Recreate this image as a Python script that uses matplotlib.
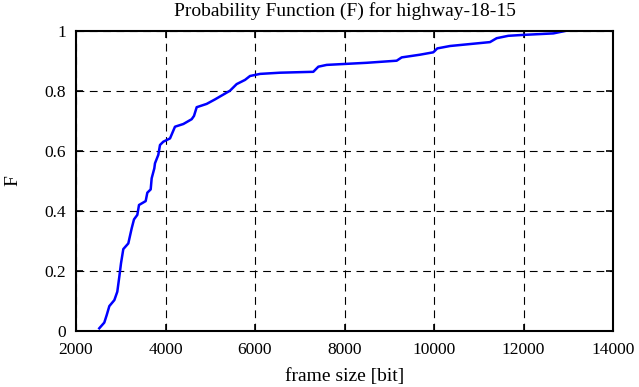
import matplotlib
matplotlib.use("Agg")
import matplotlib.pyplot as plt

# frame size [bit] vs cumulative probability F
frame_size = [2520, 2632, 2686, 2745, 2857, 2923, 2968, 3006, 3057, 3169,
              3244, 3296, 3370, 3408, 3557, 3594, 3669, 3691, 3750, 3765,
              3839, 3877, 3951, 4101, 4212, 4399, 4585, 4637, 4697, 4920,
              5106, 5441, 5590, 5777, 5888, 6112, 6559, 7303, 7415, 7601,
              8495, 9166, 9278, 9687, 9985, 10074, 10358, 11251, 11400, 11661,
              11996, 12667, 12928]
prob_f = [0.009, 0.028, 0.053, 0.083, 0.103, 0.131, 0.181, 0.226, 0.273, 0.292,
          0.342, 0.372, 0.387, 0.420, 0.433, 0.461, 0.472, 0.509, 0.542, 0.559,
          0.587, 0.620, 0.631, 0.642, 0.681, 0.690, 0.706, 0.717, 0.746, 0.757,
          0.772, 0.801, 0.823, 0.837, 0.850, 0.857, 0.861, 0.864, 0.881, 0.887,
          0.894, 0.901, 0.912, 0.921, 0.929, 0.942, 0.950, 0.963, 0.976, 0.984,
          0.987, 0.992, 1.000]

x_ticks = [2000, 4000, 6000, 8000, 10000, 12000, 14000]
y_ticks = [0, 0.2, 0.4, 0.6, 0.8, 1]
y_tick_labels = ["0", "0.2", "0.4", "0.6", "0.8", "1"]

plt.rcParams["font.family"] = ["Liberation Serif", "DejaVu Serif"]
plt.rcParams["font.size"] = 12.5

fig = plt.figure(figsize=(6.39, 3.87), dpi=100)
ax = fig.add_axes([76 / 639, 1 - 331 / 387, (613 - 76) / 639, 300 / 387])

ax.plot(frame_size, prob_f, color="#0000ff", linewidth=1.8)

ax.set_xlim(2000, 14000)
ax.set_ylim(0, 1)
ax.set_xticks(x_ticks)
ax.set_yticks(y_ticks)
ax.set_yticklabels(y_tick_labels)
ax.grid(True, color="black", linestyle=(0, (7, 5)), linewidth=0.8)
ax.tick_params(direction="in", length=5, width=1.2, top=True, right=True)
ax.tick_params(axis="x", pad=8)
ax.tick_params(axis="y", pad=7)
for s in ax.spines.values():
    s.set_linewidth(1.5)

ax.set_title("Probability Function (F) for highway-18-15", fontsize=14, pad=11)
ax.set_xlabel("frame size [bit]", labelpad=7, fontsize=14)
ax.set_ylabel("F", labelpad=17, fontsize=14)

fig.savefig("out.png", dpi=100)
